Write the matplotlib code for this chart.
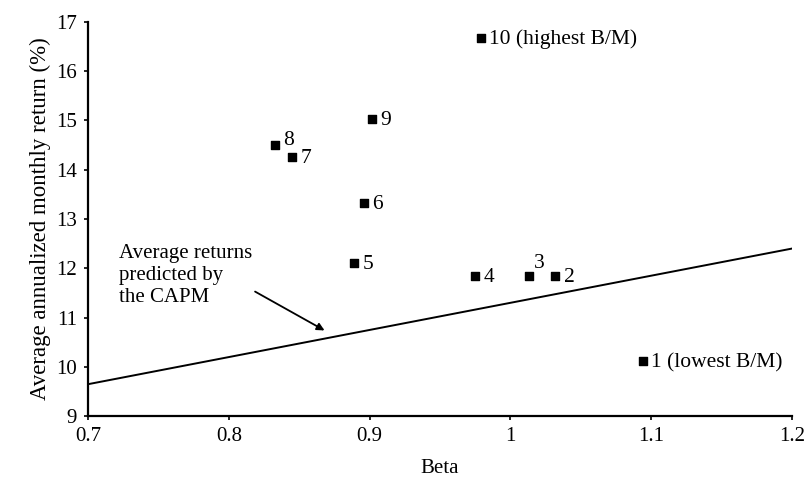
import numpy as np
import matplotlib.pyplot as plt

plt.rcParams['font.family'] = ['Liberation Serif', 'DejaVu Serif']

# portfolio betas and average annualized monthly returns (%)
labels = ['1 (lowest B/M)', '2', '3', '4', '5', '6', '7', '8', '9', '10 (highest B/M)']
beta = [1.094, 1.032, 1.013, 0.975, 0.889, 0.896, 0.845, 0.833, 0.902, 0.979]
ret = [10.12, 11.84, 11.85, 11.84, 12.1, 13.33, 14.25, 14.5, 15.02, 16.68]

# CAPM predicted line
capm_beta = [0.7, 1.2]
capm_ret = [9.65, 12.4]

# label offsets (points)
offsets = [(6, -1), (6, -1), (4, 9), (6, -1), (6, -1), (6, -1), (6, -1), (6, 3), (6, -1), (6, -1)]

fig, ax = plt.subplots(figsize=(8.08, 4.84), dpi=100)
fig.subplots_adjust(left=0.109, right=0.980, bottom=0.140, top=0.955)

ax.plot(capm_beta, capm_ret, color='black', lw=1.4)
ax.scatter(beta, ret, marker='s', s=40, color='black', zorder=3)
for b, r, lab, off in zip(beta, ret, labels, offsets):
    ax.annotate(lab, (b, r), xytext=off, textcoords='offset points',
                ha='left', va='center', fontsize=15.5)

ax.annotate('Average returns\npredicted by\nthe CAPM', xy=(0.868, 10.74), xytext=(0.722, 11.85),
            fontsize=15, ha='left', va='center', linespacing=1.2,
            arrowprops=dict(arrowstyle='-|>', color='black', lw=1.3, mutation_scale=11,
                            shrinkA=0, shrinkB=0, relpos=(0.85, 0.45)))

ax.set_xlim(0.7, 1.2)
ax.set_ylim(9, 17)
ax.set_xticks([0.7, 0.8, 0.9, 1.0, 1.1, 1.2])
ax.set_xticklabels(['0.7', '0.8', '0.9', '1', '1.1', '1.2'])
ax.set_yticks(range(9, 18))
ax.spines['top'].set_visible(False)
ax.spines['right'].set_visible(False)
ax.spines['left'].set_linewidth(1.6)
ax.spines['bottom'].set_linewidth(1.6)
ax.tick_params(direction='out', length=3, width=1.2, labelsize=15, pad=5)
ax.set_xlabel('Beta', fontsize=15, labelpad=9)
ax.set_ylabel('Average annualized monthly return (%)', fontsize=16.5, labelpad=4)

plt.savefig('out.png', dpi=100)
